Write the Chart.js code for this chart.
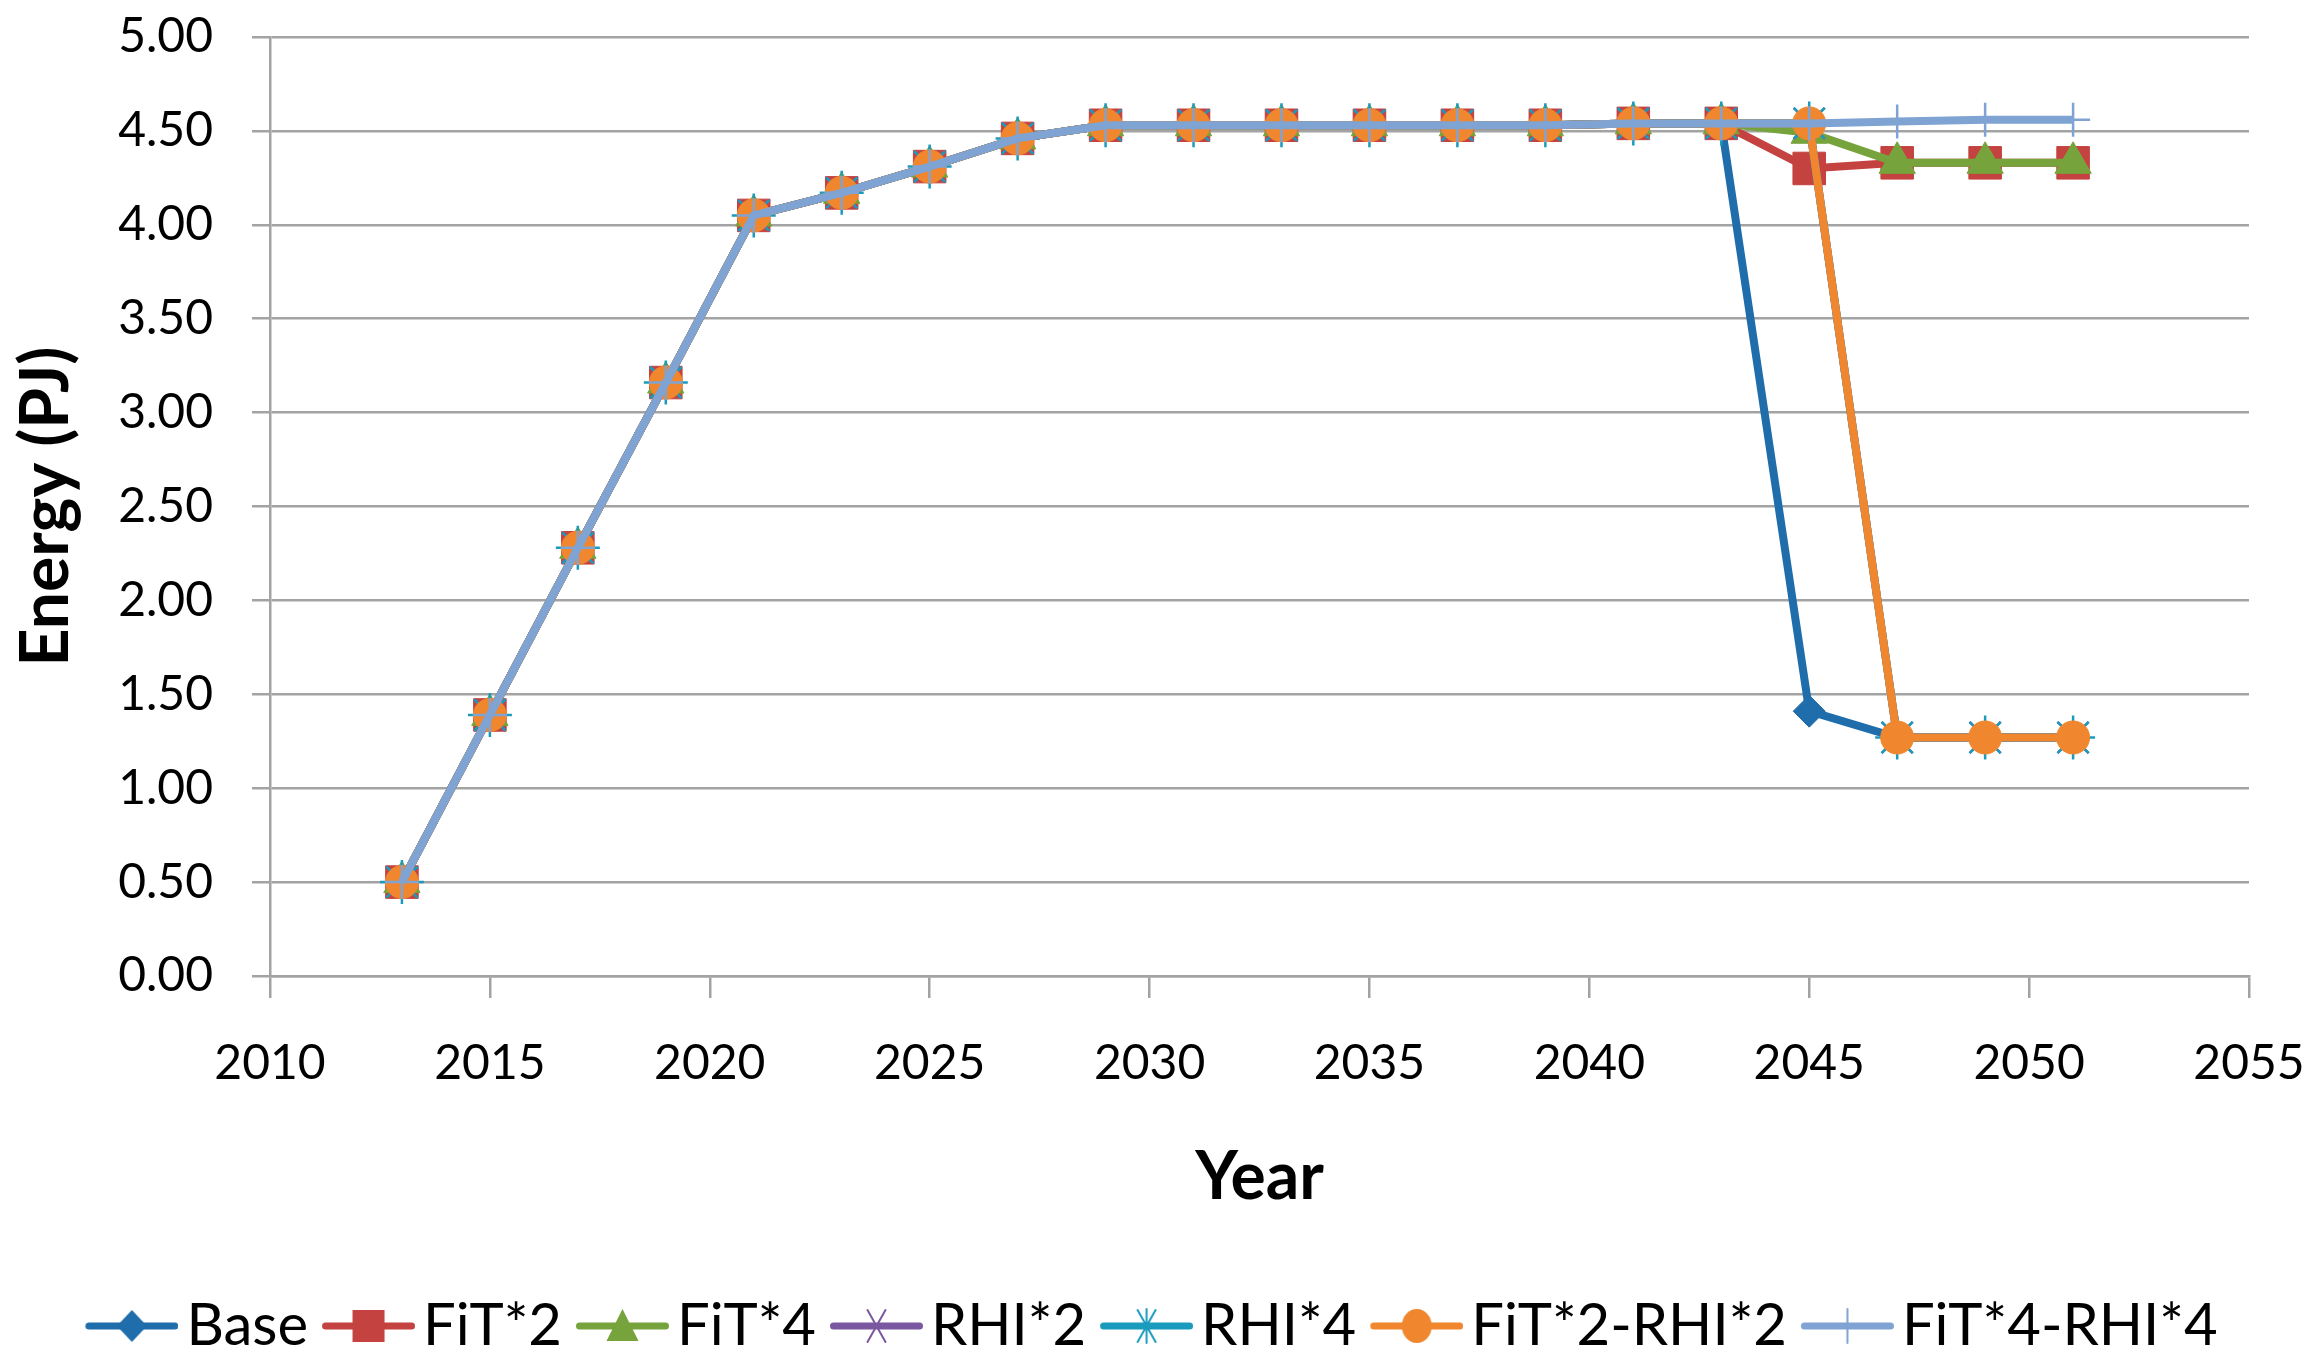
<!DOCTYPE html>
<html>
<head>
<meta charset="utf-8">
<script src="https://cdn.jsdelivr.net/npm/chart.js@4.4.1/dist/chart.umd.min.js"></script>
<style>
  html, body { margin: 0; padding: 0; background: #ffffff; }
  #wrap { width: 2316px; height: 1366px; }
</style>
</head>
<body>
<div id="wrap"><canvas id="energyChart" width="2316" height="1366"></canvas></div>
<script>
// Years sampled every two years
const years = [2013, 2015, 2017, 2019, 2021, 2023, 2025, 2027, 2029, 2031,
               2033, 2035, 2037, 2039, 2041, 2043, 2045, 2047, 2049, 2051];

// Energy (PJ) per scenario
const baseVals     = [0.50, 1.39, 2.28, 3.16, 4.05, 4.17, 4.31, 4.46, 4.53, 4.53, 4.53, 4.53, 4.53, 4.53, 4.54, 4.54, 1.41, 1.27, 1.27, 1.27];
const fit2Vals     = [0.50, 1.39, 2.28, 3.16, 4.05, 4.17, 4.31, 4.46, 4.53, 4.53, 4.53, 4.53, 4.53, 4.53, 4.54, 4.54, 4.30, 4.33, 4.33, 4.33];
const fit4Vals     = [0.50, 1.39, 2.28, 3.16, 4.05, 4.17, 4.31, 4.46, 4.53, 4.53, 4.53, 4.53, 4.53, 4.53, 4.54, 4.54, 4.49, 4.33, 4.33, 4.33];
const rhi2Vals     = [0.50, 1.39, 2.28, 3.16, 4.05, 4.17, 4.31, 4.46, 4.53, 4.53, 4.53, 4.53, 4.53, 4.53, 4.54, 4.54, 4.54, 1.27, 1.27, 1.27];
const rhi4Vals     = [0.50, 1.39, 2.28, 3.16, 4.05, 4.17, 4.31, 4.46, 4.53, 4.53, 4.53, 4.53, 4.53, 4.53, 4.54, 4.54, 4.54, 1.27, 1.27, 1.27];
const fit2rhi2Vals = [0.50, 1.39, 2.28, 3.16, 4.05, 4.17, 4.31, 4.46, 4.53, 4.53, 4.53, 4.53, 4.53, 4.53, 4.54, 4.54, 4.54, 1.27, 1.27, 1.27];
const fit4rhi4Vals = [0.50, 1.39, 2.28, 3.16, 4.05, 4.17, 4.31, 4.46, 4.53, 4.53, 4.53, 4.53, 4.53, 4.53, 4.54, 4.54, 4.54, 4.55, 4.56, 4.56];

const seriesNames = ["Base", "FiT*2", "FiT*4", "RHI*2", "RHI*4", "FiT*2-RHI*2", "FiT*4-RHI*4"];
const seriesVals = [baseVals, fit2Vals, fit4Vals, rhi2Vals, rhi4Vals, fit2rhi2Vals, fit4rhi4Vals];
const seriesColors = ["#1f6dab", "#c4423f", "#77a33c", "#7a58a0", "#1a9bbd", "#f0862e", "#7fa3d2"];
const seriesShapes = ["rectRot", "rect", "triangle", "crossRot", "star", "circle", "cross"];
const seriesRadius = [16, 23, 21, 22, 22, 16.5, 17];

const FONT = "Lato, 'Open Sans', sans-serif";
const GRID = "#a3a3a3";

// Legend icon: short line with marker in the middle (Excel style)
const ICON_W = 114, SEG_START = 21;
function makeLegendIcon(color, shape) {
    const c = document.createElement("canvas");
    c.width = ICON_W;
    c.height = 44;
    const g = c.getContext("2d");
    const cy = 22, cx = (SEG_START + ICON_W) / 2;
    g.strokeStyle = color;
    g.fillStyle = color;
    g.lineCap = "round";
    g.lineWidth = 7;
    g.beginPath();
    g.moveTo(SEG_START + 3.5, cy);
    g.lineTo(ICON_W - 3.5, cy);
    g.stroke();
    g.lineWidth = 2;
    g.beginPath();
    if (shape === "rectRot") {
        g.moveTo(cx - 15, cy); g.lineTo(cx, cy - 16); g.lineTo(cx + 15, cy); g.lineTo(cx, cy + 16);
        g.closePath(); g.fill();
    } else if (shape === "rect") {
        g.fillRect(cx - 16, cy - 16, 32, 32);
    } else if (shape === "triangle") {
        g.moveTo(cx, cy - 17); g.lineTo(cx + 16, cy + 15); g.lineTo(cx - 16, cy + 15);
        g.closePath(); g.fill();
    } else if (shape === "circle") {
        g.ellipse(cx, cy, 15, 17, 0, 0, Math.PI * 2); g.fill();
    } else if (shape === "crossRot") {
        g.moveTo(cx - 9, cy - 16); g.lineTo(cx + 9, cy + 16);
        g.moveTo(cx + 9, cy - 16); g.lineTo(cx - 9, cy + 16);
        g.stroke();
    } else if (shape === "star") {
        g.moveTo(cx - 9, cy - 16); g.lineTo(cx + 9, cy + 16);
        g.moveTo(cx + 9, cy - 16); g.lineTo(cx - 9, cy + 16);
        g.moveTo(cx, cy - 17); g.lineTo(cx, cy + 17);
        g.stroke();
    } else if (shape === "cross") {
        g.moveTo(cx, cy - 17); g.lineTo(cx, cy + 17);
        g.stroke();
    }
    return c;
}

const legendIcons = seriesColors.map((col, i) => makeLegendIcon(col, seriesShapes[i]));

const datasets = seriesNames.map((name, i) => {
    const filled = ["rectRot", "rect", "triangle", "circle"].includes(seriesShapes[i]);
    return {
        label: name,
        data: years.map((yr, k) => ({ x: yr, y: seriesVals[i][k] })),
        borderColor: seriesColors[i],
        backgroundColor: seriesColors[i],
        borderWidth: 8,
        pointStyle: seriesShapes[i],
        pointRadius: seriesRadius[i],
        pointBackgroundColor: seriesColors[i],
        pointBorderColor: seriesColors[i],
        pointBorderWidth: filled ? 1 : 2.5,
        tension: 0,
        fill: false,
        order: seriesNames.length - 1 - i   // later series drawn on top
    };
});

// nudge the legend row a little to the right, like the original
const legendShift = {
    id: "legendShift",
    afterLayout(chart) {
        if (chart.legend) {
            chart.legend.left += 27;
            chart.legend.right += 27;
        }
    }
};

const ctx = document.getElementById("energyChart").getContext("2d");
new Chart(ctx, {
    type: "line",
    data: { datasets: datasets },
    plugins: [legendShift],
    options: {
        responsive: false,
        animation: false,
        layout: { padding: { left: 0, right: 67, top: 37, bottom: 1 } },
        scales: {
            x: {
                type: "linear",
                min: 2010,
                max: 2055,
                afterFit: function (scale) {
                    scale.height = 307;
                    scale.paddingLeft = 0;
                    scale.paddingRight = 0;
                },
                ticks: {
                    stepSize: 5,
                    padding: 37,
                    color: "#000000",
                    font: { family: FONT, size: 48 },
                    callback: v => String(v),
                    maxRotation: 0
                },
                grid: {
                    drawOnChartArea: false,
                    drawTicks: true,
                    tickLength: 22,
                    color: GRID,
                    lineWidth: 2.5
                },
                border: { color: GRID, width: 2.5 },
                title: {
                    display: true,
                    text: "Year",
                    color: "#000000",
                    font: { family: FONT, size: 66, weight: "bold" },
                    padding: { top: 0, bottom: 66 }
                }
            },
            y: {
                min: 0,
                max: 5,
                afterFit: function (scale) {
                    scale.width = 270;
                    scale.paddingTop = 0;
                    scale.paddingBottom = 0;
                },
                ticks: {
                    stepSize: 0.5,
                    padding: 39,
                    color: "#000000",
                    font: { family: FONT, size: 48 },
                    callback: v => Number(v).toFixed(2)
                },
                grid: {
                    drawTicks: true,
                    tickLength: 18,
                    color: GRID,
                    lineWidth: 2.5
                },
                border: { color: GRID, width: 2.5 },
                title: {
                    display: true,
                    text: "Energy (PJ)",
                    color: "#000000",
                    font: { family: FONT, size: 66, weight: "bold" },
                    padding: { top: 7, bottom: 0 }
                }
            }
        },
        plugins: {
            tooltip: { enabled: false },
            legend: {
                display: true,
                position: "bottom",
                labels: {
                    usePointStyle: true,
                    pointStyleWidth: 72,
                    padding: 14,
                    color: "#000000",
                    font: { family: FONT, size: 58 },
                    sort: (a, b) => a.datasetIndex - b.datasetIndex,
                    generateLabels: function (chart) {
                        const items = Chart.defaults.plugins.legend.labels.generateLabels(chart);
                        items.forEach(item => { item.pointStyle = legendIcons[item.datasetIndex]; });
                        return items;
                    }
                }
            }
        }
    }
});
</script>
</body>
</html>
